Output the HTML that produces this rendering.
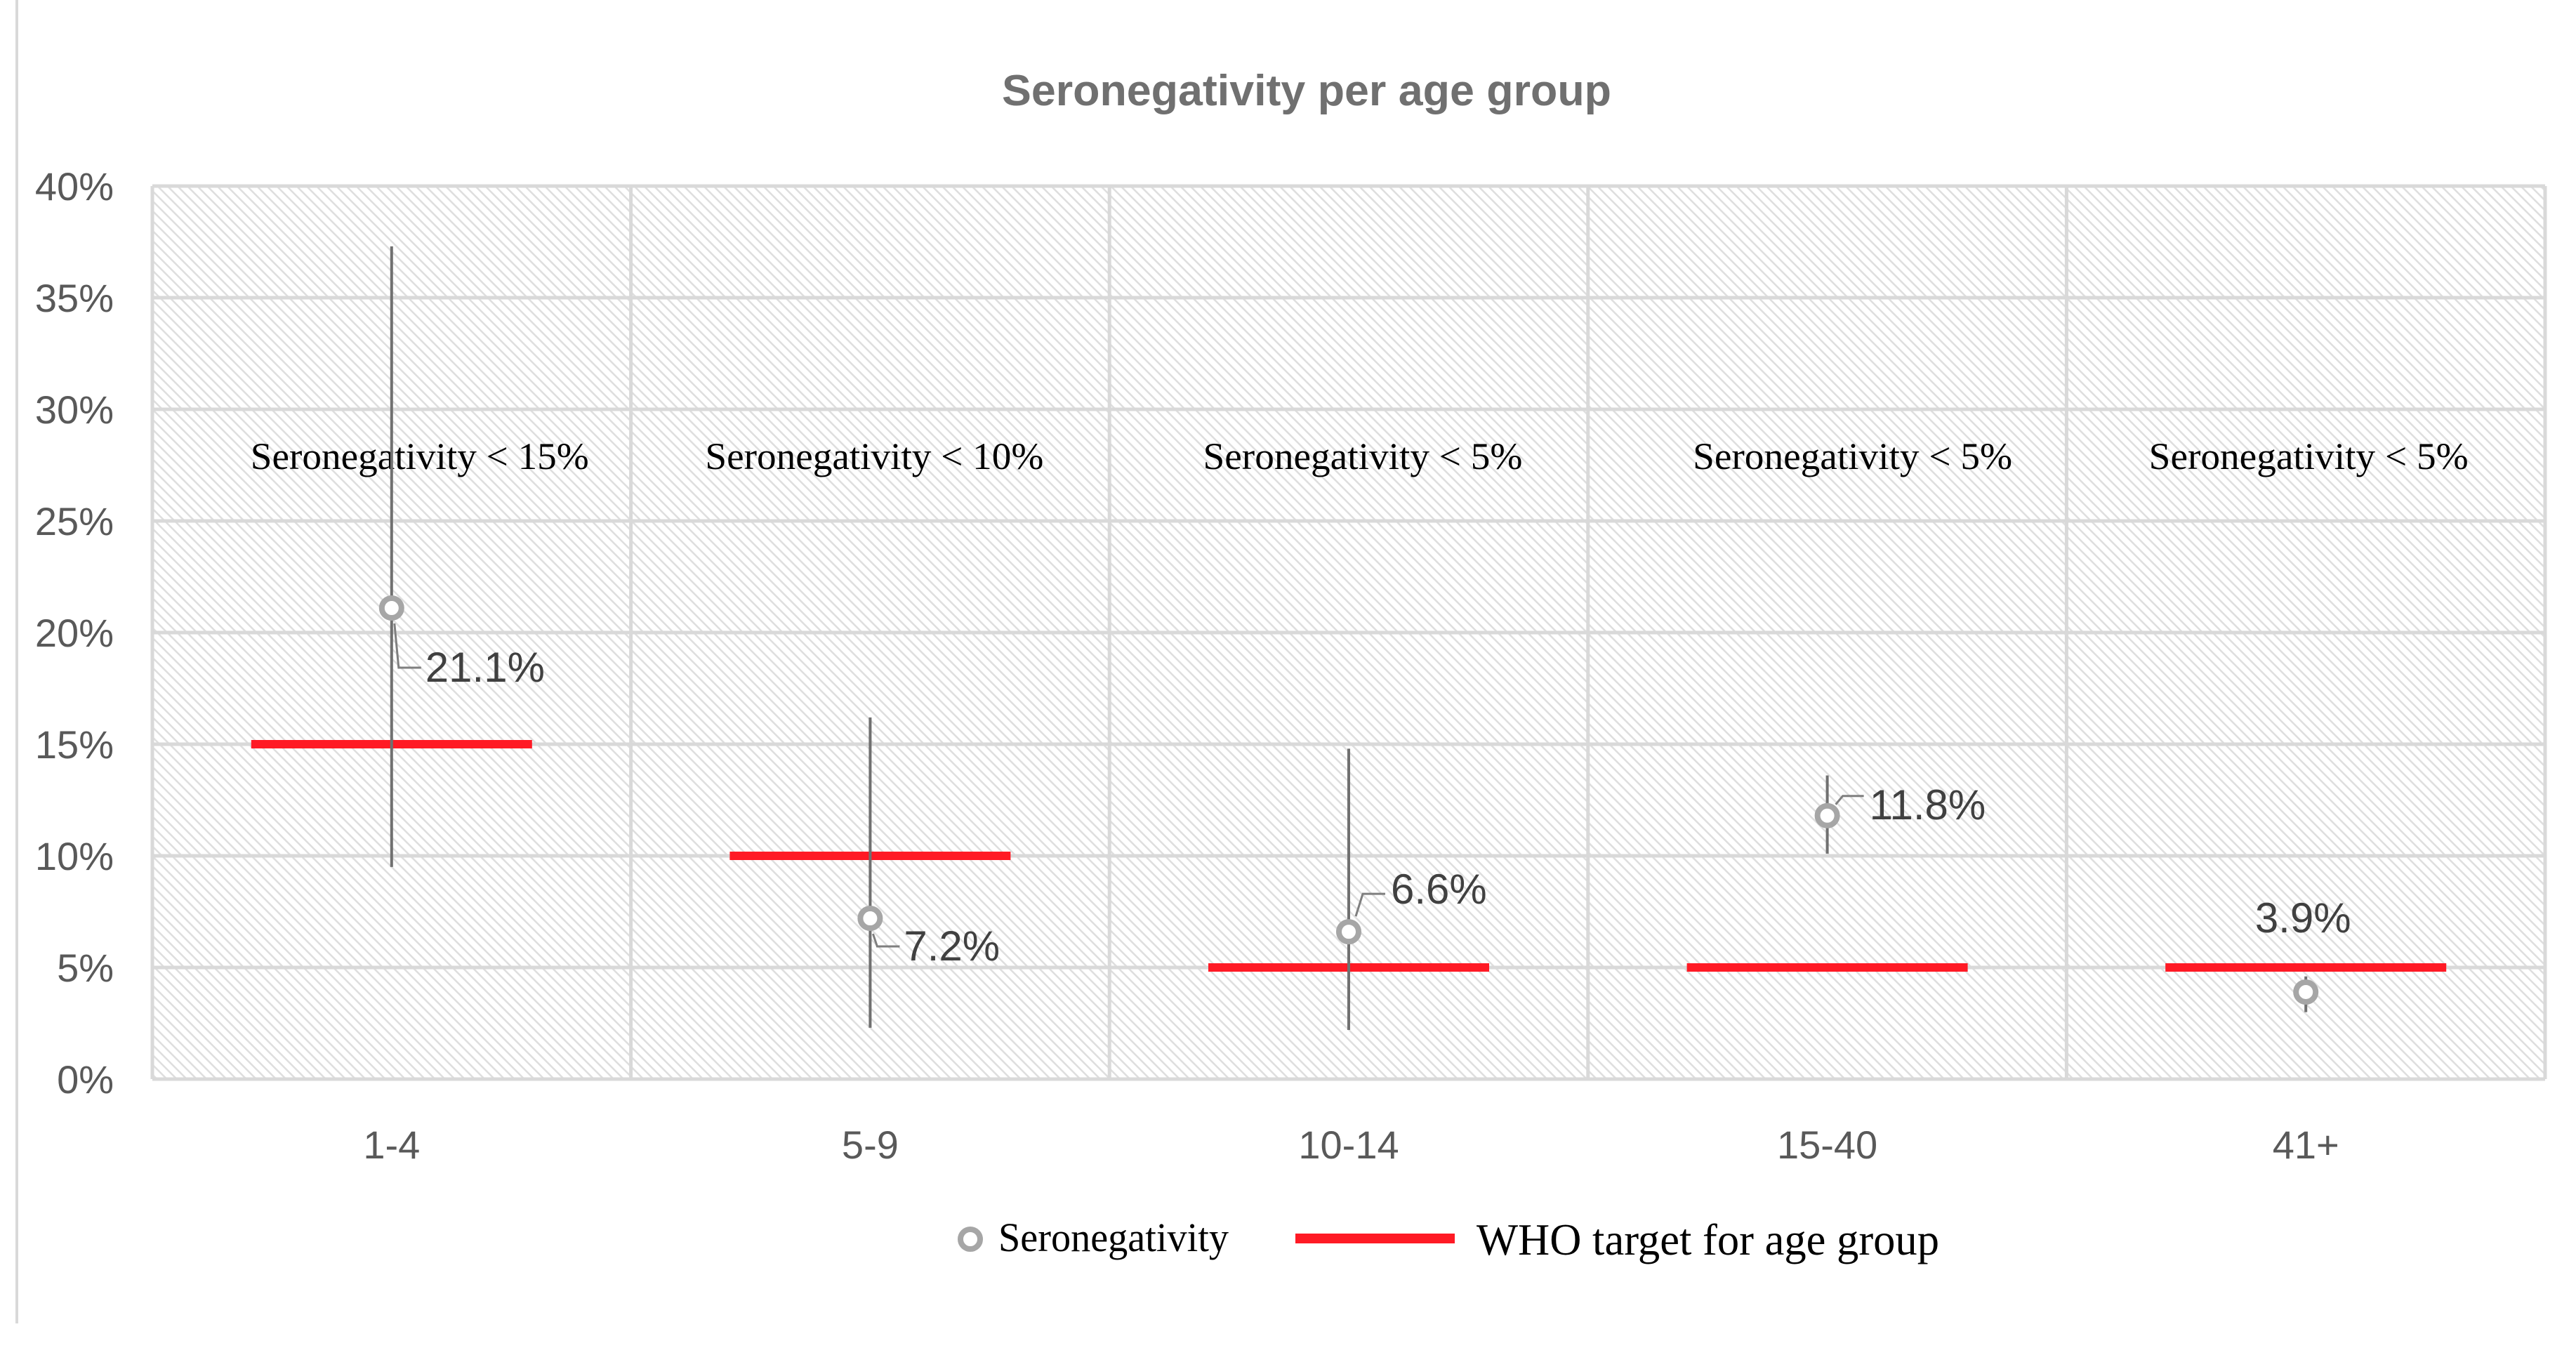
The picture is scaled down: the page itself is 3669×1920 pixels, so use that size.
<!DOCTYPE html>
<html><head><meta charset="utf-8"><style>
html,body{margin:0;padding:0;background:#fff;}
svg{display:block;}
</style></head><body>
<svg id="chart" width="3669" height="1920" viewBox="0 0 3669 1920" xmlns="http://www.w3.org/2000/svg">
<defs>
<pattern id="hatch" patternUnits="userSpaceOnUse" width="10" height="10" patternTransform="rotate(-45)">
<rect width="10" height="10" fill="#fff"/>
<rect x="0" y="0" width="2.5" height="10" fill="#dedede"/>
</pattern>
</defs>
<line x1="24" y1="0" x2="24" y2="1885" stroke="#d9d9d9" stroke-width="4"/>
<text x="1861" y="150" text-anchor="middle" font-family="Liberation Sans Narrow, Liberation Sans, sans-serif" font-weight="bold" font-size="62" fill="#707070" textLength="868" lengthAdjust="spacingAndGlyphs">Seronegativity per age group</text>
<g id="plot"></g>
</svg>
<script>
const categories = ["1-4","5-9","10-14","15-40","41+"];
const values = [21.1, 7.2, 6.6, 11.8, 3.9];
const errLow = [9.5, 2.3, 2.2, 10.1, 3.0];
const errHigh = [37.3, 16.2, 14.8, 13.6, 4.6];
const targets = [15, 10, 5, 5, 5];
const targetLabels = ["Seronegativity < 15%","Seronegativity < 10%","Seronegativity < 5%","Seronegativity < 5%","Seronegativity < 5%"];
const valueLabels = ["21.1%","7.2%","6.6%","11.8%","3.9%"];
const yTicks = [0,5,10,15,20,25,30,35,40];
const yTickLabels = ["0%","5%","10%","15%","20%","25%","30%","35%","40%"];

const NS = "http://www.w3.org/2000/svg";
const L = 217, R = 3625, T = 265, B = 1537;
const band = (R - L) / categories.length;
const xC = i => L + band * (i + 0.5);
const y = v => B - (v / 40) * (B - T);
const g = document.getElementById('plot');
function mk(tag, attrs, parent) {
  const e = document.createElementNS(NS, tag);
  for (const k in attrs) e.setAttribute(k, attrs[k]);
  (parent || g).appendChild(e);
  return e;
}
let e;
e = mk('rect', {x: L, y: T, width: R - L, height: B - T, fill: 'url(#hatch)'});


yTicks.forEach((t, i) => {
  e = mk('line', {x1: L, x2: R, y1: y(t), y2: y(t), stroke: '#d9d9d9', 'stroke-width': 5});
  
  
  e = mk('text', {x: 162, y: y(t) + 20, 'text-anchor': 'end', 'font-family': 'Liberation Sans Narrow, Liberation Sans, sans-serif', 'font-size': 56, fill: '#595959'});
  e.textContent = yTickLabels[i];
  
  
});
for (let i = 0; i <= categories.length; i++) {
  e = mk('line', {x1: L + band * i, x2: L + band * i, y1: T, y2: B, stroke: '#d9d9d9', 'stroke-width': 5});
  
  
}
categories.forEach((c, i) => {
  const cx = xC(i);
  e = mk('text', {x: cx, y: 1650, 'text-anchor': 'middle', 'font-family': 'Liberation Sans Narrow, Liberation Sans, sans-serif', 'font-size': 56, fill: '#595959'});
  e.textContent = c;
  
  
  const ax = cx + (i === 0 ? 40 : i === 1 ? 6 : i === 2 ? 20 : i === 3 ? 36 : 4);
  e = mk('text', {x: ax, y: 668, 'text-anchor': 'middle', 'font-family': 'Liberation Serif, serif', 'font-size': 54, fill: '#000', textLength: i < 2 ? 482 : 455, lengthAdjust: 'spacingAndGlyphs'});
  e.textContent = targetLabels[i];
  
  
  e = mk('line', {x1: cx - 200, x2: cx + 200, y1: y(targets[i]), y2: y(targets[i]), stroke: '#ff1a25', 'stroke-width': 12});
  
  
  e = mk('line', {x1: cx, x2: cx, y1: y(errLow[i]), y2: y(errHigh[i]), stroke: '#707070', 'stroke-width': 4});
  
  
  e = mk('circle', {cx: cx, cy: y(values[i]), r: 14, fill: '#fff', stroke: '#a6a6a6', 'stroke-width': 8});
  
  
  const py = y(values[i]);
  let lx, ly, pts = null;
  if (i === 4) { lx = cx - 4; ly = py - 85; }
  else if (i === 3) { lx = cx + 60; ly = py + 5;
    pts = `${cx+12},${py-16} ${cx+22},${py-28} ${lx-8},${py-28}`; }
  else if (i === 2) { lx = cx + 60; ly = py - 40;
    pts = `${cx+10},${py-22} ${cx+20},${ly-14} ${lx-8},${ly-14}`; }
  else if (i === 1) { lx = cx + 48; ly = py + 60;
    pts = `${cx+4},${py+22} ${cx+10},${ly-20} ${lx-6},${ly-20}`; }
  else { lx = cx + 48; ly = py + 105;
    pts = `${cx+4},${py+22} ${cx+10},${ly-20} ${lx-6},${ly-20}`; }
  if (pts) {
    e = mk('polyline', {points: pts, fill: 'none', stroke: '#7f7f7f', 'stroke-width': 3});
    
    
  }
  e = mk('text', {x: lx, y: ly, 'text-anchor': i === 4 ? 'middle' : 'start', 'font-family': 'Liberation Sans Narrow, Liberation Sans, sans-serif', 'font-size': 60, fill: '#404040'});
  e.textContent = valueLabels[i];
  
  
});
e = mk('circle', {cx: 1382, cy: 1765, r: 14, fill: '#fff', stroke: '#a6a6a6', 'stroke-width': 8});


e = mk('text', {x: 1422, y: 1782, 'font-family': 'Liberation Serif, serif', 'font-size': 58, fill: '#000', textLength: 328, lengthAdjust: 'spacingAndGlyphs'});
e.textContent = 'Seronegativity';


e = mk('line', {x1: 1845, x2: 2072, y1: 1764, y2: 1764, stroke: '#ff1a25', 'stroke-width': 14});


e = mk('text', {x: 2103, y: 1787, 'font-family': 'Liberation Serif, serif', 'font-size': 64, fill: '#000', textLength: 659, lengthAdjust: 'spacingAndGlyphs'});
e.textContent = 'WHO target for age group';


</script>
</body></html>
